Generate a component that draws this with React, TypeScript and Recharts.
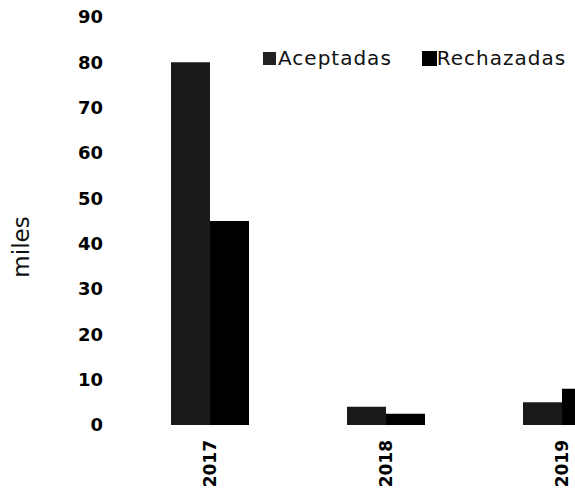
import React from "react";
import { BarChart, Bar, XAxis, YAxis, Label } from "recharts";

const years = ["2017", "2018", "2019"];
const aceptadas = [80, 4, 5];
const rechazadas = [45, 2.5, 8];
const yTicks = [0, 10, 20, 30, 40, 50, 60, 70, 80, 90];

const data = years.map((year, i) => ({
  year,
  aceptadas: aceptadas[i],
  rechazadas: rechazadas[i],
}));

const FONT = "'DejaVu Sans', sans-serif";

const YearTick = ({ x, y, payload }: any) => (
  <g transform={`translate(${x},${y})`}>
    <text
      transform="rotate(-90)"
      x={-15}
      dy="0.35em"
      textAnchor="end"
      fill="#000"
      fontFamily={FONT}
      fontWeight="bold"
      fontSize={17}
    >
      {payload.value}
    </text>
  </g>
);

const ChartLegend = () => (
  <div
    style={{
      position: "absolute",
      top: 46,
      left: 263,
      display: "flex",
      alignItems: "center",
      fontFamily: FONT,
      fontSize: 20,
      letterSpacing: 1,
      color: "#111",
      whiteSpace: "nowrap",
    }}
  >
    <span style={{ width: 13, height: 13, background: "#222", marginRight: 2 }} />
    <span>Aceptadas</span>
    <span style={{ width: 15, height: 15, background: "#000", marginLeft: 30 }} />
    <span>Rechazadas</span>
  </div>
);

const App: React.FC = () => {
  return (
    <div
      style={{
        position: "fixed",
        left: 0,
        top: 0,
        width: 575,
        height: 489,
        overflow: "hidden",
        background: "#fff",
      }}
    >
      <BarChart
        width={650}
        height={489}
        data={data}
        margin={{ top: 17, right: 0, bottom: 0, left: 0 }}
        barGap={0}
      >
        <XAxis
          dataKey="year"
          axisLine={false}
          tickLine={false}
          tickSize={0}
          tickMargin={0}
          height={64}
          tick={<YearTick />}
          interval={0}
        />
        <YAxis
          domain={[0, 90]}
          ticks={yTicks}
          axisLine={false}
          tickLine={false}
          tickSize={0}
          tickMargin={19}
          width={122}
          tick={{ fill: "#000", fontFamily: FONT, fontWeight: "bold", fontSize: 18 }}
        >
          <Label
            content={() => (
              <text
                x={22}
                y={247}
                transform="rotate(-90 22 247)"
                textAnchor="middle"
                dominantBaseline="middle"
                fontFamily={FONT}
                fontSize={23}
                fill="#111"
              >
                miles
              </text>
            )}
          />
        </YAxis>
        <Bar dataKey="aceptadas" name="Aceptadas" fill="#1a1a1a" barSize={39} isAnimationActive={false} />
        <Bar dataKey="rechazadas" name="Rechazadas" fill="#000" barSize={39} isAnimationActive={false} />
      </BarChart>
      <ChartLegend />
    </div>
  );
};

export default App;
